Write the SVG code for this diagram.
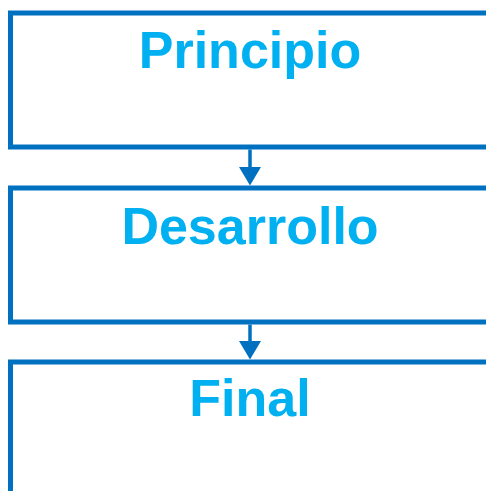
<svg xmlns="http://www.w3.org/2000/svg" width="486" height="491" viewBox="0 0 486 491">
  <style>
    .box { fill: #FFFFFF; stroke: #0070C0; stroke-width: 5; }
    .label { font-family: "Liberation Sans", Arial, sans-serif; font-weight: bold; font-size: 52px; fill: #00B0F0; text-anchor: middle; }
    .conn { stroke: #0070C0; stroke-width: 3.5; fill: none; }
    .head { fill: #0070C0; }
  </style>
  <rect width="486" height="491" fill="#FFFFFF"/>
  <g id="principio">
    <rect class="box" x="10.5" y="13" width="500" height="134"/>
    <text class="label" x="250" y="68">Principio</text>
  </g>
  <g id="desarrollo">
    <rect class="box" x="10.5" y="188" width="500" height="134"/>
    <text class="label" x="250" y="244">Desarrollo</text>
  </g>
  <g id="final">
    <rect class="box" x="10.5" y="362" width="500" height="150"/>
    <text class="label" x="250" y="416">Final</text>
  </g>
  <g id="connectors">
    <path class="conn" d="M250,149.5 L250,168"/>
    <polygon class="head" points="239,167 261,167 250,185.5"/>
    <path class="conn" d="M250,324.5 L250,342"/>
    <polygon class="head" points="239,341 261,341 250,359.5"/>
  </g>
</svg>
